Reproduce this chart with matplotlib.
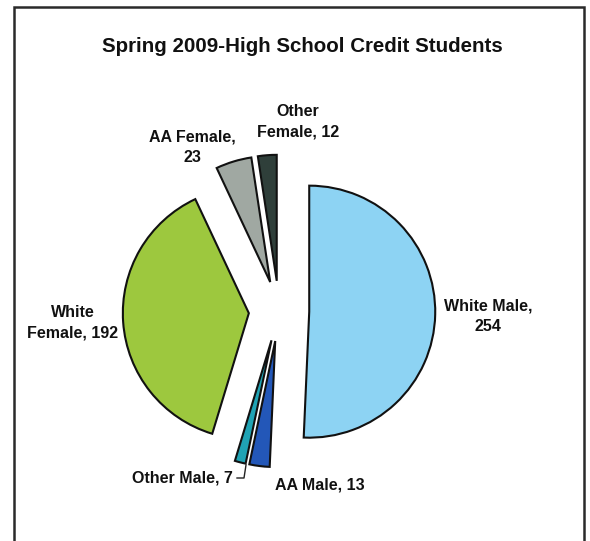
import matplotlib
matplotlib.use('Agg')
import matplotlib.pyplot as plt
from matplotlib.patches import Rectangle

# enrolment counts, spring 2009
labels = ['White Male', 'AA Male', 'Other Male',
          'White Female', 'AA Female', 'Other Female']
counts = [254, 13, 7, 192, 23, 12]
colors = ['#8DD3F3', '#2357B8', '#20A3B4', '#9DC83E', '#A0A8A2', '#2F3F3A']

W, H = 590, 541
cx, cy, R = 279, 311, 126   # pie centre / radius in pixels

plt.rcParams['font.family'] = ['Liberation Sans', 'DejaVu Sans']
fig = plt.figure(figsize=(W / 100, H / 100), dpi=100)
ax = fig.add_axes([0, 0, 1, 1])

wedges, _ = ax.pie(counts, colors=colors, startangle=90, counterclock=False,
                   explode=[0.24] * len(counts), radius=1,
                   wedgeprops=dict(edgecolor='#111111', linewidth=1.5))
ax.set_xlim(-cx / R, (W - cx) / R)
ax.set_ylim(-(H - cy) / R, cy / R)
ax.set_aspect('equal')
ax.axis('off')

# chart border (runs off the bottom edge)
fig.patches.append(Rectangle((14 / W, -0.05), 570 / W, 1.05 - 7 / H,
                             transform=fig.transFigure, fill=False,
                             edgecolor='#2a2a2a', linewidth=1.8))

fig.text(302 / W, 1 - 52 / H, 'Spring 2009-High School Credit Students',
         ha='center', va='baseline', fontsize=14.8, fontweight='bold',
         color='#111111')

# label text and placement (pixels from top-left)
label_pos = {
    'White Male': (488, 316, 'White Male,\n{}'),
    'AA Male': (320, 485, 'AA Male, {}'),
    'Other Male': (182, 478, 'Other Male, {}'),
    'White Female': (73, 323, 'White\nFemale, {}'),
    'AA Female': (192, 147, 'AA Female,\n{}'),
    'Other Female': (298, 122, 'Other\nFemale, {}'),
}
for name, n in zip(labels, counts):
    x, y, fmt = label_pos[name]
    fig.text(x / W, 1 - y / H, fmt.format(n), ha='center', va='center',
             fontsize=11.5, fontweight='bold', color='#111111',
             linespacing=1.45)

# leader line for the small "Other Male" slice
lx = [237, 244, 246]
ly = [478, 478, 465]
fig.add_artist(plt.Line2D([v / W for v in lx], [1 - v / H for v in ly],
                          transform=fig.transFigure, color='#222222',
                          linewidth=1.0))

fig.savefig('out.png', dpi=100, facecolor='white')
